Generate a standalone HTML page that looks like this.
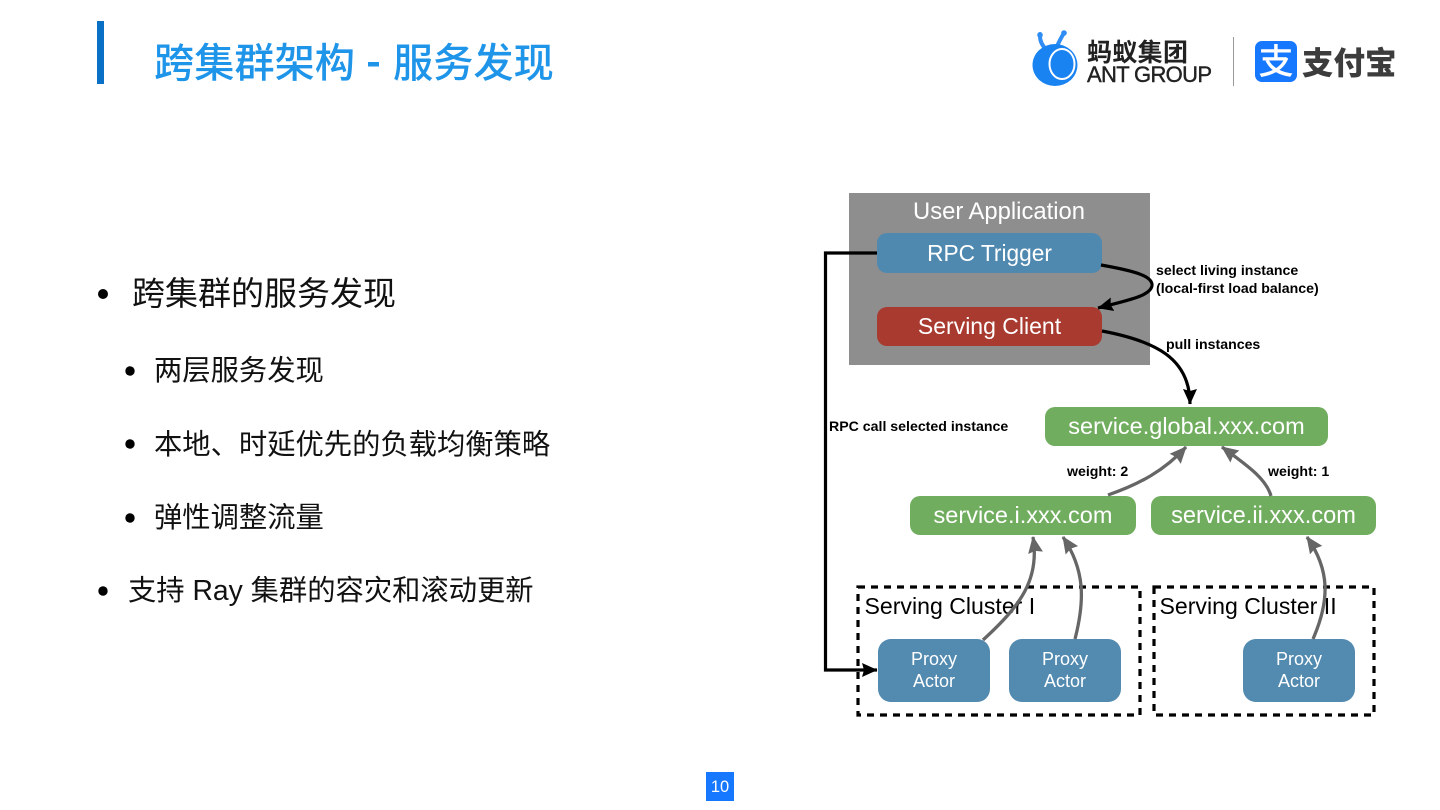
<!DOCTYPE html>
<html lang="zh">
<head>
<meta charset="utf-8">
<style>
html,body{margin:0;padding:0;background:#fff;width:1440px;height:810px;overflow:hidden}
svg{display:block}
text{font-family:"Liberation Sans","Noto Sans CJK SC",sans-serif}
.w{fill:#fff;text-anchor:middle}
.b{font-weight:bold;font-size:14.15px;fill:#000}
.body1{font-size:33px;fill:#111}
.body2{font-size:28.3px;fill:#111}
.cl{font-size:23.1px;fill:#000}
.px{font-size:18px}
</style>
</head>
<body>
<svg width="1440" height="810" viewBox="0 0 1440 810" xmlns="http://www.w3.org/2000/svg">
<defs>
<marker id="ak" markerUnits="userSpaceOnUse" markerWidth="17" markerHeight="17" refX="15" refY="8.5" orient="auto"><path d="M0 1.5 L15.5 8.5 L0 15.5 L2 8.5Z" fill="#000"/></marker>
<marker id="ag" markerUnits="userSpaceOnUse" markerWidth="18" markerHeight="17" refX="16" refY="8.5" orient="auto"><path d="M0 1 L17 8.5 L0 16 L2 8.5Z" fill="#666"/></marker>
</defs>

<!-- title -->
<rect x="97" y="21" width="7" height="63" fill="#0a70c6"/>
<text x="154" y="77" font-size="40.2" font-weight="500" fill="#1f95ea">跨集群架构</text>
<rect x="368" y="62" width="11" height="4.5" fill="#1f95ea"/>
<text x="393" y="77" font-size="40.2" font-weight="500" fill="#1f95ea">服务发现</text>

<!-- logos -->
<path d="M1044 47 C1040 42 1040 38 1040 34" stroke="#2f8df3" stroke-width="4" fill="none" stroke-linecap="round"/>
<path d="M1058 44 C1060 40 1062 36 1064 33" stroke="#2f8df3" stroke-width="4" fill="none" stroke-linecap="round"/>
<circle cx="1040" cy="35" r="2.8" fill="#2f8df3"/><circle cx="1064" cy="33" r="2.8" fill="#2f8df3"/>
<ellipse cx="1055" cy="65" rx="22.5" ry="21" fill="#1a83f2"/>
<ellipse cx="1062" cy="64" rx="12.5" ry="15" fill="none" stroke="#fff" stroke-width="2"/>
<text x="1087" y="61" font-size="25" font-weight="700" fill="#222" textLength="101">蚂蚁集团</text>
<text x="1087" y="82" font-size="22" fill="#222" stroke="#222" stroke-width=".4" textLength="125">ANT GROUP</text>
<rect x="1233" y="37" width="1" height="49" fill="#999"/>
<rect x="1255" y="41" width="42" height="41" rx="7" fill="#1677ff"/>
<text x="1276" y="74" font-size="35" font-weight="500" fill="#fff" text-anchor="middle">支</text>
<text x="1302" y="74" font-size="31.5" font-weight="900" fill="#3c3c3c">支付宝</text>

<!-- bullets -->
<circle cx="103" cy="294" r="5" fill="#000"/>
<text x="132" y="305" class="body1">跨集群的服务发现</text>
<circle cx="130" cy="371" r="4.7" fill="#000"/>
<text x="154" y="380" class="body2">两层服务发现</text>
<circle cx="130" cy="444" r="4.7" fill="#000"/>
<text x="154" y="454" class="body2">本地、时延优先的负载均衡策略</text>
<circle cx="130" cy="518" r="4.7" fill="#000"/>
<text x="154" y="527" class="body2">弹性调整流量</text>
<circle cx="103" cy="591" r="4.7" fill="#000"/>
<text x="128" y="600" class="body2">支持 Ray 集群的容灾和滚动更新</text>

<!-- diagram -->
<rect x="849" y="193" width="301" height="172" fill="#8e8e8e"/>
<text x="999" y="219" class="w" font-size="23.8">User Application</text>
<rect x="877" y="233" width="225" height="40" rx="10" fill="#5089b0"/>
<text x="989.5" y="261" class="w" font-size="22.7">RPC Trigger</text>
<rect x="877" y="307" width="225" height="39" rx="10" fill="#a93a2f"/>
<text x="989.5" y="334" class="w" font-size="23">Serving Client</text>

<rect x="1045" y="407" width="283" height="39" rx="10" fill="#71ad5f"/>
<text x="1186.5" y="434" class="w" font-size="23.5">service.global.xxx.com</text>
<rect x="910" y="496" width="226" height="39" rx="10" fill="#71ad5f"/>
<text x="1023" y="523" class="w" font-size="23.5">service.i.xxx.com</text>
<rect x="1151" y="496" width="225" height="39" rx="10" fill="#71ad5f"/>
<text x="1263.5" y="523" class="w" font-size="23.6">service.ii.xxx.com</text>

<rect x="858" y="587" width="282" height="128" fill="none" stroke="#000" stroke-width="3.2" stroke-dasharray="7 6"/>
<rect x="1154" y="587" width="220" height="128" fill="none" stroke="#000" stroke-width="3.2" stroke-dasharray="7 6"/>
<text x="864.5" y="614" class="cl">Serving Cluster I</text>
<text x="1159.5" y="614" class="cl">Serving Cluster II</text>

<rect x="878" y="639" width="112" height="63" rx="13" fill="#528ab0"/>
<text x="934" y="665" class="w px">Proxy</text><text x="934" y="687" class="w px">Actor</text>
<rect x="1009" y="639" width="112" height="63" rx="13" fill="#528ab0"/>
<text x="1065" y="665" class="w px">Proxy</text><text x="1065" y="687" class="w px">Actor</text>
<rect x="1243" y="639" width="112" height="63" rx="13" fill="#528ab0"/>
<text x="1299" y="665" class="w px">Proxy</text><text x="1299" y="687" class="w px">Actor</text>

<!-- connectors -->
<path d="M877 253 H825.5 V670 H877" fill="none" stroke="#000" stroke-width="3.2" marker-end="url(#ak)"/>
<path d="M1101 265 C1135 271 1152 276 1152 285 C1152 296 1125 301 1098 308" fill="none" stroke="#000" stroke-width="3.2" marker-end="url(#ak)"/>
<path d="M1102 331 C1155 341 1190 358 1190 404" fill="none" stroke="#000" stroke-width="3.2" marker-end="url(#ak)"/>

<path d="M1108 495 C1140 484 1165 470 1186 447" fill="none" stroke="#666" stroke-width="3.3" marker-end="url(#ag)"/>
<path d="M1271 496 C1266 478 1245 464 1222 447" fill="none" stroke="#666" stroke-width="3.3" marker-end="url(#ag)"/>
<path d="M983 640 C1020 606 1040 580 1033 537" fill="none" stroke="#666" stroke-width="3.3" marker-end="url(#ag)"/>
<path d="M1075 639 C1085 600 1085 570 1063 537" fill="none" stroke="#666" stroke-width="3.3" marker-end="url(#ag)"/>
<path d="M1313 639 C1330 600 1330 570 1307 537" fill="none" stroke="#666" stroke-width="3.3" marker-end="url(#ag)"/>

<!-- labels -->
<text x="1156" y="275" class="b">select living instance</text>
<text x="1156" y="293" class="b">(local-first load balance)</text>
<text x="1166" y="349" class="b">pull instances</text>
<text x="829" y="431" class="b">RPC call selected instance</text>
<text x="1067" y="476" class="b">weight: 2</text>
<text x="1268" y="476" class="b">weight: 1</text>

<!-- page number -->
<rect x="706" y="772" width="28" height="29" fill="#1677ff"/>
<text x="720" y="792" class="w" font-size="16.5">10</text>
</svg>
</body>
</html>
